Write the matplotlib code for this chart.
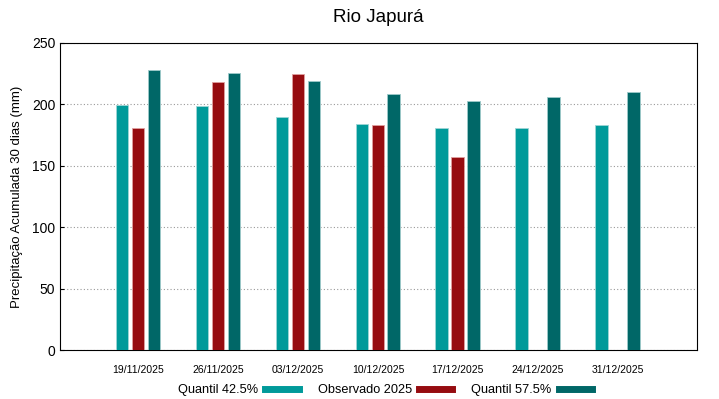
import numpy as np
import matplotlib
matplotlib.use('Agg')
import matplotlib.pyplot as plt
from matplotlib.lines import Line2D

plt.rcParams['font.family'] = ['Liberation Sans', 'DejaVu Sans']

dates = ['19/11/2025', '26/11/2025', '03/12/2025', '10/12/2025',
         '17/12/2025', '24/12/2025', '31/12/2025']
q425 = [199.5, 198.7, 190.0, 183.8, 180.5, 181.0, 183.2]
obs2025 = [180.5, 218.0, 224.5, 183.0, 157.2, np.nan, np.nan]
q575 = [227.7, 225.8, 218.8, 208.5, 203.0, 205.8, 210.4]

c_q425 = '#009a9a'
c_obs = '#960c10'
c_q575 = '#006767'

fig = plt.figure(figsize=(7.19, 3.99), dpi=100)
ax = fig.add_axes([60 / 719, 1 - 350 / 399, 637 / 719, 307 / 399])

x = np.arange(len(dates))
w = 0.16
ax.bar(x - 0.2, q425, w, color=c_q425, edgecolor='#9fd6d6', linewidth=0.6, zorder=3)
ax.bar(x, obs2025, w, color=c_obs, edgecolor='#e0a0a0', linewidth=0.6, zorder=3)
ax.bar(x + 0.2, q575, w, color=c_q575, edgecolor='#9fcaca', linewidth=0.6, zorder=3)

ax.set_xlim(-0.975, 6.99)
ax.set_ylim(0, 250)
ax.set_yticks([0, 50, 100, 150, 200, 250])
ax.set_xticks(x)
ax.set_xticklabels(dates, fontsize=7.5)
ax.tick_params(axis='y', labelsize=10, direction='in', length=3)
ax.tick_params(axis='x', direction='in', length=0, pad=11)
ax.grid(axis='y', color='#999999', linestyle=(0, (1, 2)), linewidth=0.8, zorder=0)
for s in ax.spines.values():
    s.set_linewidth(0.8)

ax.set_ylabel('Precipitação Acumulada 30 dias (mm)', fontsize=9.5, labelpad=6)
fig.text(378 / 719, 1 - 18 / 399, 'Rio Japurá', ha='center', va='center', fontsize=13.5)

handles = [Line2D([], [], color=c_q425, lw=5),
           Line2D([], [], color=c_obs, lw=5),
           Line2D([], [], color=c_q575, lw=5)]
labels = ['Quantil 42.5%', 'Observado 2025', 'Quantil 57.5%']
fig.legend(handles, labels, loc='center', bbox_to_anchor=(385 / 719, 1 - 390 / 399),
           ncol=3, frameon=False, markerfirst=False, fontsize=9.2,
           handlelength=2.6, columnspacing=1.5, handletextpad=0.55)

fig.savefig('out.png', dpi=100)
